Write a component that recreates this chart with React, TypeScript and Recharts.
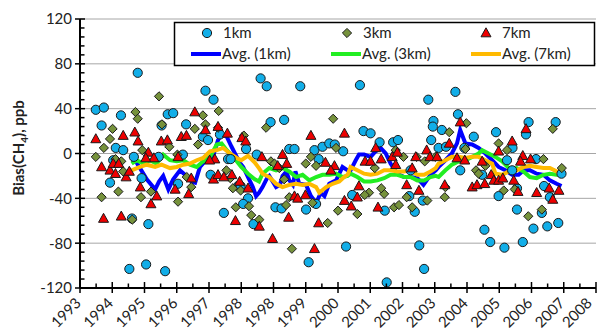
import React from 'react';
import { ComposedChart, Scatter, Line, XAxis, YAxis, ReferenceLine } from 'recharts';

// x is in axis-tick units: 0 = first tick ("1993"), 16 = last tick ("2008")
const xTickLabels = ['1993', '1994', '1995', '1996', '1997', '1998', '1998', '1999', '2000', '2001', '2002', '2003', '2004', '2005', '2006', '2007', '2008'];
const yMajor = [-120, -80, -40, 0, 40, 80, 120];

const km1 = [
  [0.49, 39], [0.74, 41], [0.67, 25], [1.27, 34], [1.11, 5], [1.34, 3], [0.93, -26], [1.03, -6], [1.67, -3], [1.79, 72],
  [1.91, -22], [2.12, -63], [1.61, -58], [1.53, -103], [2.05, -99], [2.64, -105], [2.53, 25], [2.72, 35], [2.44, -3], [2.89, 36],
  [3.89, 56], [4.14, 48], [3.29, 26], [3.81, 15], [3.97, 12], [4.34, 17], [3.19, -1], [4.59, -5], [4.67, -5], [4.05, -19],
  [5.15, 4], [5.48, -1], [4.9, -29], [4.98, -29], [5.21, -40], [5.06, -45], [4.46, -53], [5.38, -63], [5.6, 67], [3.04, -27],
  [5.79, 60], [6.83, 60], [5.91, 28], [6.33, 30], [6.49, 4], [6.65, 4], [7.27, 3], [7.52, 6], [7.73, 9], [7.9, 8],
  [8.16, 2], [7.4, -5], [6.06, -48], [6.25, -49], [7.01, -50], [7.32, -45], [7.09, -97], [8.25, -83], [8.68, 61], [8.79, 20],
  [9.01, 18], [9.29, 10], [9.71, 10], [9.86, 12], [10.96, 29], [10.94, 24], [10.89, 12], [8.44, -37], [9.45, -51], [10.21, -38],
  [10.38, -52], [10.63, -42], [10.52, -82], [10.67, -103], [9.51, -115], [10.25, -15], [11.64, 55], [10.8, 48], [11.72, 35], [11.22, 21],
  [12.21, 15], [12.9, 19], [11.12, 5], [11.35, 6], [11.92, 5], [12.47, -19], [13.24, -6], [13.4, -15], [13.55, -31], [12.98, -38],
  [11.79, -15], [12.54, -68], [12.72, -79], [13.16, -84], [13.55, -50], [13.73, -79], [13.91, 28], [14.75, 28], [13.83, 17], [13.41, 5],
  [14.14, -5], [14.39, -29], [14.57, -39], [14.32, -53], [14.06, -67], [14.49, -65], [14.83, -62], [14.93, -18],
];

const km3 = [
  [2.45, 51], [1.72, 37], [1.79, 31], [1.01, 22], [0.93, 13], [0.74, 5], [0.49, -3], [1.1, -5], [1.28, -7], [1.34, -16],
  [1.19, -34], [0.67, -39], [1.62, -59], [1.93, 3], [2.54, 26], [1.89, -39], [2.2, -34], [2.77, 6], [3.02, -1], [4.3, 38],
  [3.81, 34], [3.56, 22], [3.89, 26], [4.28, 23], [5.08, 16], [3.66, 8], [3.45, -30], [3.04, -43], [4.66, -22], [4.54, -15],
  [4.74, -31], [4.98, -33], [4.83, -48], [5.31, -55], [5.24, -47], [3.31, -21], [7.85, 31], [5.77, 23], [5.92, -7], [6.03, -9],
  [7.16, -3], [7.32, -11], [7.0, -9], [6.49, -39], [6.39, -46], [8.0, -51], [7.68, -62], [6.57, -85], [5.56, -59], [7.94, 5],
  [7.21, -44], [6.18, -13], [6.33, -23], [10.03, -3], [9.79, 3], [10.44, -3], [10.69, -7], [9.14, -13], [8.96, -35], [8.83, -37],
  [9.43, -36], [9.34, -31], [9.74, -48], [9.89, -46], [10.13, -39], [10.3, -48], [8.6, -54], [10.77, -42], [11.98, 27], [11.45, 19],
  [12.98, 9], [13.24, 3], [11.02, -3], [11.33, -30], [11.31, -39], [12.28, -15], [12.36, -18], [12.57, -11], [11.95, 4], [13.14, -33],
  [13.48, -32], [14.66, 22], [13.9, -56], [14.32, -50], [14.37, -5], [14.94, -13],
];

const km7 = [
  [0.49, 13], [1.34, 16], [1.7, 19], [1.8, 11], [0.67, -12], [0.93, -15], [1.03, -9], [1.2, -9], [1.1, -18], [1.43, -21],
  [1.53, -16], [0.73, -58], [1.28, -56], [2.2, -45], [2.38, -38], [1.87, -30], [2.12, 1], [2.29, -4], [2.04, -4], [2.52, 11],
  [2.71, 12], [2.95, -32], [3.56, 37], [3.14, 15], [3.3, 16], [3.89, 21], [4.28, 24], [4.57, 18], [5.02, 14], [5.14, 11],
  [3.04, -3], [3.45, -22], [3.37, -36], [4.14, -23], [4.28, -19], [4.46, -21], [4.71, -19], [4.18, -5], [4.02, -6], [4.82, -60],
  [5.21, -31], [4.95, -25], [5.64, -3], [6.28, -1], [6.41, -9], [6.13, -11], [7.16, 16], [8.2, 18], [7.61, -8], [7.89, -11],
  [7.78, -15], [6.65, -38], [6.75, -40], [6.99, -37], [6.47, -57], [5.97, -76], [7.4, -62], [7.27, -85], [8.2, -42], [5.56, -65],
  [9.17, 5], [8.84, -7], [9.01, -7], [9.34, -5], [9.68, -3], [9.84, 1], [10.41, -3], [10.3, -13], [9.79, -10], [10.13, -28],
  [10.51, -33], [10.75, 3], [10.85, -3], [8.65, -29], [8.41, -47], [9.24, -48], [8.6, -39], [11.79, 28], [11.45, 9], [13.4, 11],
  [12.98, 2], [13.73, -2], [11.07, -3], [11.69, -4], [11.93, -6], [11.31, -28], [12.16, -30], [12.31, -28], [12.55, -27], [12.75, -19],
  [12.83, -24], [12.98, -24], [13.11, -22], [13.45, -24], [13.58, -34], [12.47, -7], [13.83, 22], [13.97, -5], [14.16, -35], [14.55, -31],
  [14.66, -41], [14.85, -33], [13.66, -7],
];

const avg1 = [
  [1.6, -6], [1.75, -8], [1.86, -13], [2.07, -23], [2.33, -32], [2.45, -25], [2.58, -20], [2.74, -32], [2.89, -23], [3.1, -15],
  [3.3, -20], [3.46, -25], [3.57, -26], [3.72, -12], [3.93, -5], [4.13, -2], [4.28, 12], [4.39, 17], [4.55, 15], [4.7, 6],
  [4.86, -3], [4.95, -8], [5.06, -12], [5.21, -21], [5.36, -30], [5.46, -38], [5.55, -35], [5.66, -30], [5.8, -22], [5.87, -20],
  [6.08, -30], [6.2, -28], [6.28, -20], [6.4, -16], [6.49, -24], [6.6, -28], [6.68, -16], [6.8, -27], [7.01, -28], [7.16, -38],
  [7.32, -44], [7.47, -35], [7.58, -38], [7.73, -27], [7.94, -24], [8.14, -12], [8.3, -15], [8.39, -15], [8.55, -6], [8.65, -1],
  [8.81, -1], [9.01, -3], [9.17, 2], [9.32, 5], [9.48, 0], [9.63, -9], [9.84, -18], [10.05, -21], [10.25, -21], [10.46, -22],
  [10.65, -28], [10.87, -19], [11.03, -15], [11.12, -12], [11.33, -6], [11.53, 0], [11.69, 9], [11.79, 21], [11.87, 15], [11.95, 9],
  [12.16, 8], [12.36, 5], [12.57, 0], [12.78, -6], [12.98, -12], [13.19, -15], [13.4, -19], [13.6, -19], [13.76, -15], [13.95, -15],
  [14.16, -18], [14.37, -19], [14.57, -24], [14.78, -27], [14.93, -29],
];

const avg3 = [
  [1.6, -9], [1.76, -6], [1.96, -9], [2.17, -6], [2.38, -9], [2.58, -1], [2.79, -6], [3.0, -7], [3.2, -6], [3.41, -10],
  [3.62, -12], [3.82, -7], [4.03, -3], [4.24, 8], [4.39, 9], [4.55, 3], [4.75, -3], [5.0, -12], [5.21, -18], [5.42, -23],
  [5.55, -25], [5.66, -18], [5.87, -13], [6.08, -15], [6.28, -13], [6.49, -16], [6.7, -21], [6.9, -19], [7.11, -24], [7.32, -21],
  [7.52, -19], [7.73, -19], [7.94, -18], [8.14, -21], [8.3, -20], [8.39, -18], [8.6, -21], [8.81, -25], [9.01, -25], [9.22, -24],
  [9.43, -22], [9.63, -19], [9.84, -19], [10.05, -21], [10.25, -21], [10.46, -24], [10.67, -24], [10.87, -21], [11.03, -20], [11.12, -21],
  [11.33, -15], [11.53, -10], [11.74, -7], [11.95, -6], [12.16, -3], [12.36, 0], [12.47, 3], [12.67, 0], [12.88, -3], [13.09, -7],
  [13.33, -14], [13.54, -13], [13.75, -16], [13.95, -21], [14.16, -22], [14.37, -19], [14.57, -18], [14.78, -19], [14.93, -19],
];

const avg7 = [
  [1.6, -15], [1.86, -12], [2.07, -10], [2.33, -12], [2.53, -10], [2.79, -13], [3.0, -12], [3.2, -10], [3.41, -9], [3.62, -6],
  [3.82, -4], [4.03, 2], [4.24, 3], [4.44, 5], [4.65, 0], [4.86, -4], [5.0, -6], [5.21, -2], [5.42, -8], [5.57, -14],
  [5.66, -18], [5.87, -21], [6.08, -27], [6.28, -30], [6.49, -28], [6.7, -27], [6.9, -28], [7.11, -27], [7.32, -30], [7.42, -35],
  [7.63, -30], [7.83, -27], [8.04, -25], [8.19, -21], [8.3, -19], [8.39, -12], [8.6, -15], [8.81, -18], [9.01, -19], [9.22, -18],
  [9.43, -15], [9.63, -15], [9.84, -16], [10.05, -16], [10.25, -15], [10.46, -19], [10.67, -19], [10.87, -16], [11.03, -13], [11.12, -9],
  [11.33, -6], [11.53, -3], [11.74, -3], [11.95, -4], [12.16, -3], [12.36, -3], [12.57, -6], [12.78, -9], [12.88, -18], [13.09, -19],
  [13.29, -16], [13.54, -15], [13.75, -12], [13.95, -11], [14.16, -12], [14.37, -13], [14.57, -13], [14.78, -16], [14.93, -21],
];

const pts = (rows: number[][]) => rows.map(([x, y]) => ({ x, y }));

const FONT = 'Lato, "Open Sans", sans-serif';
const C_BLUE = '#12aee8';
const C_OLIVE = '#76923c';
const C_RED = '#ee0000';
const EDGE = '#1a1a1a';

const xTicks = Array.from({ length: 33 }, (_, i) => i / 2);
const yTicks = Array.from({ length: 31 }, (_, i) => -120 + i * 8);

const CircleDot = ({ cx, cy }: any) => (
  <circle cx={cx} cy={cy} r={4.6} fill={C_BLUE} stroke={EDGE} strokeWidth={1} />
);
const DiamondDot = ({ cx, cy }: any) => {
  const r = 4.6;
  return <polygon points={`${cx},${cy - r} ${cx + r},${cy} ${cx},${cy + r} ${cx - r},${cy}`} fill={C_OLIVE} stroke={EDGE} strokeWidth={1} />;
};
const TriangleDot = ({ cx, cy }: any) => (
  <polygon points={`${cx},${cy - 5.2} ${cx + 5},${cy + 3.8} ${cx - 5},${cy + 3.8}`} fill={C_RED} stroke={EDGE} strokeWidth={1} />
);

const XTick = ({ x, y, payload }: any) => {
  const v = payload.value;
  if (v % 1 !== 0) return <line x1={x} y1={y} x2={x} y2={y - 4.5} stroke="#000" strokeWidth={1.5} />;
  // last label sits against the right edge of the picture
  const ax = x + (v === 16 ? -3 : 2);
  const ay = y + 16;
  return (
    <g>
      <line x1={x} y1={y - 6} x2={x} y2={y + 5} stroke="#000" strokeWidth={1.5} />
      <text x={ax} y={ay} transform={`rotate(-45 ${ax} ${ay})`} textAnchor="end" fontSize={15} fontFamily={FONT} fill="#222">
        {xTickLabels[v]}
      </text>
    </g>
  );
};

const YTick = ({ x, y, payload }: any) => {
  const v = payload.value;
  if (v % 40 !== 0) return <line x1={x} y1={y} x2={x + 4.5} y2={y} stroke="#000" strokeWidth={1.5} />;
  return (
    <g>
      <line x1={x - 5} y1={y} x2={x + 5} y2={y} stroke="#000" strokeWidth={1.5} />
      <text x={x - 8} y={y} dy="0.36em" textAnchor="end" fontSize={15} fontFamily={FONT} fill="#222">
        {v}
      </text>
    </g>
  );
};

const legendRow1 = [
  { label: '1km', x: 207, Shape: CircleDot },
  { label: '3km', x: 347, Shape: DiamondDot },
  { label: '7km', x: 486, Shape: TriangleDot },
];
const legendRow2 = [
  { label: 'Avg. (1km)', x: 191, color: '#0000ff' },
  { label: 'Avg. (3km)', x: 331, color: '#22ee22' },
  { label: 'Avg. (7km)', x: 471, color: '#ffba00' },
];

export default function App() {
  return (
    <div style={{ position: 'absolute', left: 0, top: 0, width: 598, height: 334, background: '#fff' }}>
      <ComposedChart width={598} height={334} margin={{ top: 19, right: 2, bottom: 0, left: 0 }}>
        {yMajor.map((v) => (
          <ReferenceLine key={v} y={v} stroke="#a6a6a6" strokeWidth={1} />
        ))}
        <XAxis
          type="number"
          dataKey="x"
          domain={[0, 16]}
          ticks={xTicks}
          interval={0}
          height={46}
          tickSize={0}
          tickMargin={0}
          tickLine={false}
          axisLine={{ stroke: '#000', strokeWidth: 2 }}
          tick={<XTick />}
        />
        <YAxis
          type="number"
          dataKey="y"
          domain={[-120, 120]}
          ticks={yTicks}
          interval={0}
          width={80}
          tickSize={0}
          tickMargin={0}
          tickLine={false}
          axisLine={{ stroke: '#000', strokeWidth: 2 }}
          tick={<YTick />}
        />
        <Scatter name="1km" data={pts(km1)} shape={<CircleDot />} isAnimationActive={false} />
        <Scatter name="3km" data={pts(km3)} shape={<DiamondDot />} isAnimationActive={false} />
        <Scatter name="7km" data={pts(km7)} shape={<TriangleDot />} isAnimationActive={false} />
        <Line data={pts(avg1)} dataKey="y" type="linear" dot={false} stroke="#0000ff" strokeWidth={4} isAnimationActive={false} />
        <Line data={pts(avg3)} dataKey="y" type="linear" dot={false} stroke="#22ee22" strokeWidth={4} isAnimationActive={false} />
        <Line data={pts(avg7)} dataKey="y" type="linear" dot={false} stroke="#ffba00" strokeWidth={4} isAnimationActive={false} />
      </ComposedChart>
      <svg width={598} height={334} style={{ position: 'absolute', left: 0, top: 0, pointerEvents: 'none' }}>
        <text
          transform="translate(19 148) rotate(-90)"
          textAnchor="middle"
          dy="0.36em"
          fontSize={15}
          fontWeight="bold"
          fontFamily={FONT}
          fill="#222"
        >
          Bias(CH<tspan fontSize={10} dy={4}>4</tspan>
          <tspan dy={-4}>), ppb</tspan>
        </text>
        <rect x={174.5} y={22.5} width={420} height={43} fill="#fff" stroke="#000" strokeWidth={1.5} />
        {legendRow1.map(({ label, x, Shape }) => (
          <g key={label}>
            <Shape cx={x} cy={33} />
            <text x={x + 16} y={33} dy="0.36em" fontSize={15} fontFamily={FONT} fill="#222">{label}</text>
          </g>
        ))}
        {legendRow2.map(({ label, x, color }) => (
          <g key={label}>
            <line x1={x} y1={54} x2={x + 30} y2={54} stroke={color} strokeWidth={4} />
            <text x={x + 31} y={54} dy="0.36em" fontSize={15} fontFamily={FONT} fill="#222">{label}</text>
          </g>
        ))}
      </svg>
    </div>
  );
}
